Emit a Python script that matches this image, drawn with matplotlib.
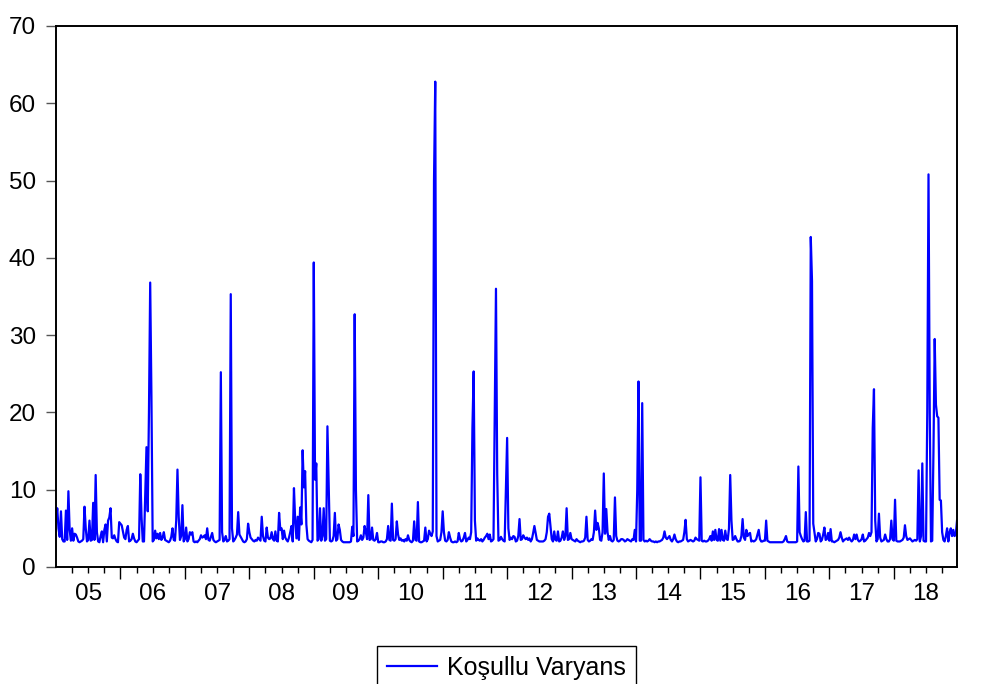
import matplotlib
matplotlib.use("Agg")
import matplotlib.pyplot as plt
import numpy as np
from matplotlib.ticker import FixedLocator, FuncFormatter, NullFormatter

plt.rcParams['font.family'] = ['Liberation Sans', 'DejaVu Sans']

# ---------------- data (weekly conditional variance, 52 values per year) ----------------
start_year = 2005
series_label = "Koşullu Varyans"

v2005 = [6.0, 7.6, 5.0, 3.9, 7.2, 3.6, 3.3, 3.3, 7.3, 3.5,
         9.8, 4.8, 3.4, 5.0, 3.4, 4.3, 4.2, 3.8, 3.3, 3.2,
         3.3, 3.4, 3.6, 7.8, 5.0, 3.3, 3.5, 6.0, 3.4, 3.5,
         8.3, 3.5, 11.9, 4.5, 3.3, 3.2, 4.0, 4.6, 3.2, 4.8,
         5.5, 3.3, 6.0, 6.4, 7.6, 3.8, 3.7, 4.1, 3.6, 3.3,
         3.2, 5.8]
v2006 = [5.6, 5.4, 4.6, 3.8, 3.6, 4.8, 5.3, 3.3, 3.4, 3.6,
         4.3, 3.7, 3.3, 3.2, 3.4, 3.6, 12.0, 6.5, 3.3, 3.3,
         9.5, 15.5, 7.2, 20.0, 36.8, 22.0, 3.3, 3.5, 4.7, 3.7,
         4.3, 3.6, 4.4, 3.5, 3.8, 4.5, 3.5, 3.4, 3.3, 3.2,
         3.4, 3.9, 5.0, 3.5, 3.4, 6.0, 12.6, 6.5, 3.5, 4.0,
         8.0, 3.3]
v2007 = [3.6, 5.1, 3.3, 3.6, 4.5, 4.2, 4.5, 3.3, 3.2, 3.3,
         3.2, 3.4, 3.6, 4.1, 3.8, 3.9, 4.1, 3.6, 5.0, 3.5,
         3.4, 3.9, 4.4, 3.5, 3.3, 3.2, 3.3, 3.4, 3.5, 25.2,
         4.5, 3.3, 3.5, 4.0, 3.3, 3.4, 3.6, 35.3, 5.0, 3.3,
         3.5, 3.8, 4.2, 7.1, 4.2, 3.9, 3.6, 3.3, 3.2, 3.3,
         3.6, 5.6]
v2008 = [4.5, 3.8, 3.6, 3.4, 3.3, 3.5, 3.4, 3.8, 3.6, 3.4,
         6.5, 4.0, 3.4, 3.3, 5.1, 3.8, 3.6, 3.7, 4.5, 3.6,
         3.4, 4.6, 3.4, 3.3, 7.0, 4.8, 5.0, 3.6, 4.7, 3.8,
         3.5, 3.3, 3.8, 4.5, 5.3, 3.3, 10.2, 6.0, 3.7, 6.5,
         3.5, 7.7, 5.5, 15.1, 10.3, 12.4, 5.5, 3.6, 3.4, 3.3,
         3.2, 3.5]
v2009 = [39.4, 11.3, 13.4, 3.4, 3.6, 7.6, 3.4, 4.0, 7.6, 3.4,
         3.6, 18.2, 10.5, 3.4, 3.3, 3.4, 4.0, 7.0, 3.4, 3.6,
         5.5, 4.8, 3.5, 3.3, 3.2, 3.2, 3.2, 3.2, 3.2, 3.2,
         3.3, 5.2, 4.0, 32.7, 10.0, 3.3, 3.4, 3.6, 4.1, 3.5,
         3.8, 5.3, 4.5, 3.6, 9.3, 3.5, 3.6, 5.1, 3.5, 3.4,
         3.6, 4.4]
v2010 = [3.2, 3.2, 3.3, 3.3, 3.2, 3.2, 3.3, 3.6, 5.3, 3.5,
         3.4, 8.2, 3.5, 3.4, 3.6, 5.9, 4.2, 3.5, 3.7, 3.4,
         3.5, 3.3, 3.6, 3.4, 4.1, 3.5, 3.3, 3.2, 3.4, 5.9,
         3.5, 3.4, 8.4, 3.3, 3.2, 3.2, 3.3, 3.4, 5.1, 3.3,
         3.6, 4.7, 4.3, 4.0, 4.6, 50.0, 62.8, 4.0, 3.3, 3.4,
         3.5, 4.5]
v2011 = [7.2, 4.5, 3.4, 3.3, 3.5, 4.5, 3.8, 3.3, 3.2, 3.2,
         3.3, 3.2, 3.3, 4.4, 3.6, 3.3, 3.4, 3.8, 4.4, 3.3,
         3.5, 3.8, 3.6, 4.5, 18.0, 25.3, 6.0, 3.4, 3.7, 3.5,
         3.4, 3.6, 3.3, 3.5, 3.8, 4.0, 4.3, 3.6, 4.2, 3.3,
         3.4, 3.6, 20.0, 36.0, 12.0, 3.4, 3.5, 3.9, 3.6, 3.4,
         3.3, 10.0]
v2012 = [16.7, 5.0, 3.5, 3.8, 3.6, 4.0, 3.9, 3.3, 3.4, 4.0,
         6.2, 3.5, 3.6, 4.1, 3.8, 3.6, 3.8, 3.5, 3.7, 3.3,
         3.6, 4.4, 5.3, 4.4, 3.5, 3.4, 3.3, 3.3, 3.3, 3.3,
         3.4, 3.6, 4.5, 6.5, 6.9, 5.3, 3.6, 3.3, 4.6, 3.5,
         3.4, 4.6, 3.3, 3.4, 3.8, 4.6, 3.5, 4.0, 7.6, 3.5,
         3.6, 4.4]
v2013 = [3.6, 3.5, 3.4, 3.3, 3.6, 3.4, 3.3, 3.2, 3.3, 3.3,
         3.4, 3.8, 6.5, 3.5, 3.3, 3.4, 3.6, 3.5, 4.5, 7.3,
         4.8, 5.7, 5.0, 3.5, 3.4, 4.5, 12.1, 4.3, 7.5, 4.5,
         3.5, 4.0, 3.4, 3.3, 3.5, 9.0, 4.0, 3.4, 3.3, 3.4,
         3.6, 3.6, 3.5, 3.3, 3.4, 3.6, 3.5, 3.4, 3.3, 3.6,
         3.5, 4.8]
v2014 = [3.3, 10.0, 24.0, 3.4, 3.4, 21.2, 3.5, 3.3, 3.4, 3.3,
         3.4, 3.6, 3.4, 3.3, 3.3, 3.2, 3.3, 3.2, 3.3, 3.3,
         3.4, 3.5, 3.8, 4.6, 3.8, 3.6, 3.8, 4.0, 3.5, 3.3,
         3.6, 4.2, 3.6, 3.3, 3.2, 3.3, 3.3, 3.4, 3.5, 4.5,
         6.1, 3.6, 3.3, 3.4, 3.5, 3.4, 3.3, 3.4, 3.8, 3.6,
         3.5, 3.4]
v2015 = [11.6, 3.4, 3.3, 3.4, 3.3, 3.3, 3.4, 3.6, 4.0, 3.4,
         4.6, 3.5, 4.8, 3.5, 3.4, 4.9, 3.4, 4.8, 3.5, 3.4,
         4.7, 3.6, 3.5, 5.0, 11.9, 6.0, 3.5, 3.6, 4.0, 3.6,
         3.3, 3.3, 3.4, 4.0, 6.2, 3.8, 3.5, 4.8, 4.0, 4.3,
         4.4, 3.3, 3.4, 3.3, 3.4, 3.6, 4.2, 4.8, 3.6, 3.3,
         3.3, 3.4]
v2016 = [3.4, 6.0, 3.4, 3.3, 3.2, 3.2, 3.2, 3.2, 3.2, 3.2,
         3.2, 3.2, 3.2, 3.2, 3.2, 3.3, 3.6, 4.0, 3.3, 3.2,
         3.2, 3.2, 3.2, 3.2, 3.2, 3.2, 3.3, 13.0, 4.5, 4.0,
         3.6, 3.3, 3.4, 7.1, 3.3, 3.3, 3.4, 42.7, 37.0, 5.6,
         4.4, 3.3, 3.6, 4.4, 4.3, 3.3, 3.5, 4.2, 5.1, 3.5,
         3.6, 4.4]
v2017 = [3.4, 4.9, 3.3, 3.3, 3.2, 3.3, 3.4, 3.5, 3.8, 4.5,
         3.8, 3.3, 3.5, 3.6, 3.7, 3.5, 3.8, 3.5, 3.3, 3.5,
         4.2, 3.6, 4.2, 3.5, 3.3, 3.4, 3.6, 4.2, 3.3, 3.4,
         3.6, 3.8, 4.4, 4.0, 4.5, 18.0, 23.0, 6.0, 3.3, 3.6,
         6.9, 3.8, 3.3, 3.4, 3.5, 4.2, 3.6, 3.3, 3.3, 3.6,
         6.0, 3.6]
v2018 = [3.4, 8.7, 3.4, 3.3, 3.3, 3.3, 3.4, 3.5, 3.8, 5.4,
         4.0, 3.5, 3.6, 3.7, 3.5, 3.3, 3.4, 3.5, 3.4, 3.6,
         12.5, 3.3, 4.0, 13.4, 3.4, 3.3, 3.3, 20.0, 50.8, 20.0,
         3.3, 3.4, 15.0, 29.5, 21.0, 19.5, 19.3, 8.7, 8.6, 4.5,
         3.5, 3.3, 4.0, 5.0, 3.3, 4.5, 5.0, 4.0, 4.8, 4.0,
         4.2, 6.0]

yearly = [v2005, v2006, v2007, v2008, v2009, v2010, v2011,
          v2012, v2013, v2014, v2015, v2016, v2017, v2018]

y_ticks = [0, 10, 20, 30, 40, 50, 60, 70]

# ---------------- build series ----------------
t_list, v_list = [], []
for k, vals in enumerate(yearly):
    for w, val in enumerate(vals):
        t_list.append(start_year + k + w / len(vals))
        v_list.append(val)
t = np.array(t_list)
v = np.array(v_list)
end_year = start_year + len(yearly)

# ---------------- figure ----------------
fig = plt.figure(figsize=(9.86, 6.84), dpi=100)
ax = fig.add_axes([0.0568, 0.1711, 0.9138, 0.7909])

ax.plot(t, v, color='#0000FF', lw=1.6, label=series_label)

ax.set_xlim(t[0], t[-1])
ax.set_ylim(y_ticks[0], y_ticks[-1])
ax.set_yticks(y_ticks)

major = list(range(start_year + 1, end_year))
minor = [y + q for y in range(start_year, end_year) for q in (0.25, 0.5, 0.75)]
ax.xaxis.set_major_locator(FixedLocator(major))
ax.xaxis.set_major_formatter(NullFormatter())
ax.xaxis.set_minor_locator(FixedLocator(minor))


def year_label(x, pos):
    if abs((x % 1) - 0.5) < 1e-6:
        return "%02d" % (int(np.floor(x)) % 100)
    return ""


ax.xaxis.set_minor_formatter(FuncFormatter(year_label))

ax.tick_params(axis='x', which='major', length=8.4, width=1.0, direction='out',
               color='black')
ax.tick_params(axis='x', which='minor', length=4.2, width=1.0, direction='out',
               color='black', labelsize=17.5, pad=7)
ax.tick_params(axis='y', which='major', length=7.5, width=1.0, direction='out',
               color='#555555', labelsize=17.5, pad=7)

for s in ax.spines.values():
    s.set_linewidth(1.4)
    s.set_color('black')

leg = ax.legend(loc='upper center', bbox_to_anchor=(0.5137, 0.0556),
                bbox_transform=fig.transFigure, borderaxespad=0,
                fancybox=False, shadow=False, framealpha=1,
                edgecolor='black', fontsize=18, handlelength=2.0,
                handletextpad=0.4, borderpad=0.4)
leg.get_frame().set_linewidth(1.0)

fig.savefig("out.png", dpi=100)
